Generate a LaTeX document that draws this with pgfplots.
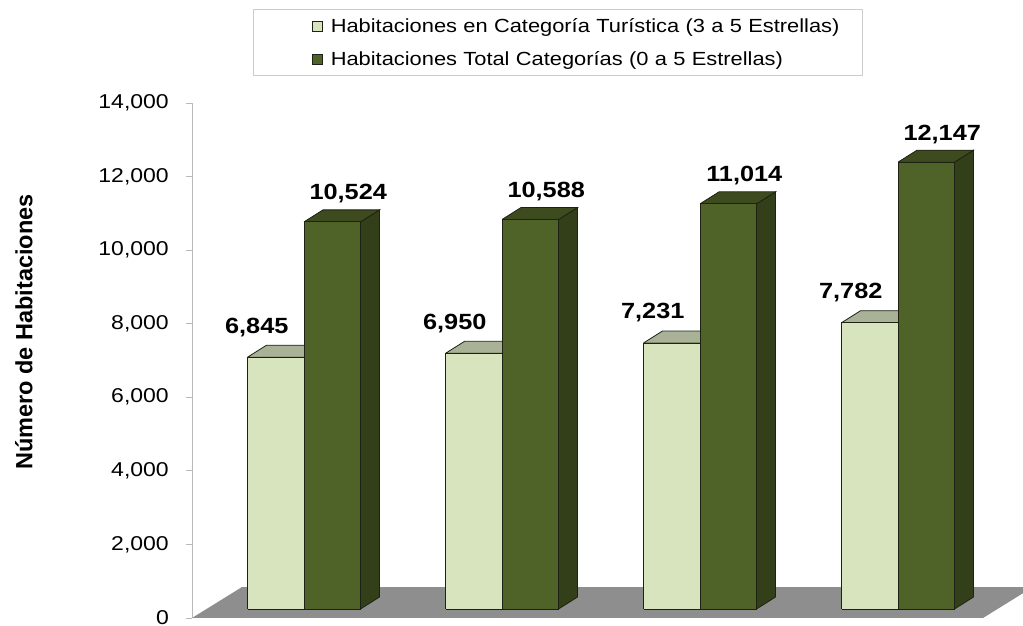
\documentclass[border=0pt]{standalone}
\usepackage{pgfplots}
\pgfplotsset{compat=1.18}
\usepackage{pgfplotstable}
\usepackage{fontspec}
\setmainfont{Liberation Sans}[FakeStretch=1.15]
\newfontfamily\ylfont{Liberation Sans}

\definecolor{lightfront}{HTML}{D7E4BD}
\definecolor{lighttop}{HTML}{A9B296}
\definecolor{darkfront}{HTML}{4F6228}
\definecolor{darkside}{HTML}{333F18}
\definecolor{darktop}{HTML}{3D4B1F}
\definecolor{floorgray}{HTML}{8E8E8E}
\definecolor{edge}{HTML}{1E2214}

\pgfplotstableread{
k light dark
1 6845 10524
2 6950 10588
3 7231 11014
4 7782 12147
}\datatable

% bar width, 3d depth offsets (axis units)
\def\bw{0.2854}
\def\dx{0.096}
\def\dy{326}

\pgfplotsset{
  /pgf/number format/.cd, fixed, precision=0, 1000 sep={,}, assume math mode=true,
  /pgfplots/.cd,
  base/.style={scale only axis, width=791pt, height=515pt,
    xmin=0.4343, xmax=4.4293, ymin=0, ymax=14000, clip=false},
}

\begin{document}
\begin{tikzpicture}
\useasboundingbox (0,0) rectangle (1023pt,626pt);
\clip (0,0) rectangle (1023pt,626pt);

% value axis, floor and legend
\begin{axis}[base,
  at={(192pt,8pt)}, anchor=south west,
  axis x line=none, axis y line=left,
  y axis line style={draw=gray!55, line width=0.8pt, -},
  xtick=\empty,
  ytick={0,2000,...,14000},
  scaled y ticks=false,
  tick align=outside, major tick length=6pt,
  y tick style={draw=gray!55, line width=0.8pt},
  yticklabel style={font=\fontsize{20}{22}\selectfont, inner sep=0pt, xshift=-17pt},
  ylabel={Número de Habitaciones},
  every axis y label/.style={at={(axis description cs:-0.2124,0.5553)},
    rotate=90, anchor=center, font=\ylfont\bfseries\fontsize{23.5}{26}\selectfont},
  legend style={at={(0.0771,1.1825)}, anchor=north west,
    draw=gray!40, line width=0.8pt, inner sep=0pt, row sep=0pt, column sep=6pt,
    font=\fontsize{19}{21}\selectfont,
    /tikz/every even column/.append style={text width=530pt, align=left}},
  legend cell align=left,
  legend image code/.code={
    \path[draw=none, fill=none] (-59pt,-16.5pt) rectangle (10pt,16.5pt);
    \filldraw[line width=0.8pt, draw=edge] (0pt,-5pt) rectangle (10pt,5pt);},
]
\addlegendimage{fill=lightfront}
\addlegendentry{Habitaciones en Categoría Turística (3 a 5 Estrellas)}
\addlegendimage{fill=darkfront}
\addlegendentry{Habitaciones Total Categorías (0 a 5 Estrellas)}
\addplot[fill=floorgray, draw=none] coordinates
  {(0.4343,0) (4.4293,0) (4.6818,842) (0.6868,842)} -- cycle;
\end{axis}

% 3d bars
\begin{axis}[base, at={(192pt,17pt)}, anchor=south west, hide axis]
\pgfplotsinvokeforeach{0,1,2,3}{
  \pgfplotstablegetelem{#1}{k}\of\datatable \let\kk\pgfplotsretval
  \pgfplotstablegetelem{#1}{light}\of\datatable \let\vl\pgfplotsretval
  \pgfplotstablegetelem{#1}{dark}\of\datatable \let\vd\pgfplotsretval
  \pgfmathsetmacro\xa{\kk-\bw}
  \pgfmathsetmacro\xb{\kk}
  \pgfmathsetmacro\xc{\kk+\bw}
  \pgfmathsetmacro\xad{\xa+\dx}
  \pgfmathsetmacro\xbd{\xb+\dx}
  \pgfmathsetmacro\xcd{\xc+\dx}
  \pgfmathsetmacro\vlt{\vl+\dy}
  \pgfmathsetmacro\vdt{\vd+\dy}
  % light bar: top, front
  \addplot[fill=lighttop, draw=edge, line width=0.8pt] coordinates
    {(\xa,\vl) (\xad,\vlt) (\xbd,\vlt) (\xb,\vl) (\xa,\vl)};
  \addplot[fill=lightfront, draw=edge, line width=0.8pt] coordinates
    {(\xa,0) (\xa,\vl) (\xb,\vl) (\xb,0) (\xa,0)};
  % dark bar: side, top, front
  \addplot[fill=darkside, draw=edge, line width=0.8pt] coordinates
    {(\xc,0) (\xcd,\dy) (\xcd,\vdt) (\xc,\vd) (\xc,0)};
  \addplot[fill=darktop, draw=edge, line width=0.8pt] coordinates
    {(\xb,\vd) (\xbd,\vdt) (\xcd,\vdt) (\xc,\vd) (\xb,\vd)};
  \addplot[fill=darkfront, draw=edge, line width=0.8pt] coordinates
    {(\xb,0) (\xb,\vd) (\xc,\vd) (\xc,0) (\xb,0)};
}
% value labels
\addplot[draw=none, nodes near coords,
  every node near coord/.append style={anchor=center, xshift=-19pt, yshift=30pt,
    font=\bfseries\fontsize{22}{24}\selectfont}]
  table[x expr=\thisrow{k}-0.1427, y=light] {\datatable};
\addplot[draw=none, nodes near coords,
  every node near coord/.append style={anchor=center, xshift=16pt, yshift=28pt,
    font=\bfseries\fontsize{22}{24}\selectfont}]
  table[x expr=\thisrow{k}+0.1427, y=dark] {\datatable};
\end{axis}
\end{tikzpicture}
\end{document}
